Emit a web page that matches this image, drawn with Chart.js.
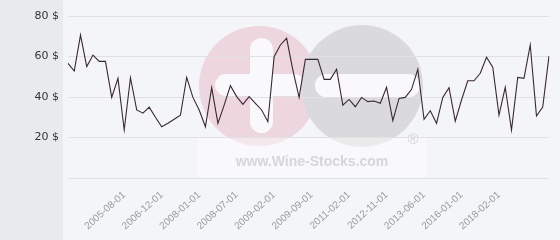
<!DOCTYPE html>
<html>
<head>
<meta charset="utf-8">
<script src="https://cdn.jsdelivr.net/npm/chart.js@4.4.0/dist/chart.umd.min.js"></script>
<style>
  html, body { margin: 0; padding: 0; background: #f4f5f9; }
  #wrap { width: 560px; height: 240px; }
</style>
</head>
<body>
<div id="wrap"><canvas id="priceChart" width="560" height="240"></canvas></div>
<script>
// price per bottle, one value per sale date
const prices = [
  56.6, 52.8, 70.6, 55, 60.7, 57.6, 57.6, 39.8, 49.2, 23.7,
  49.5, 33.6, 32, 35, 30, 25.3, 27, 29, 31, 49.7,
  39.8, 33.6, 25.3, 44.6, 27, 36, 45.6, 40.2, 36.4, 40.2,
  36.9, 33.6, 27.8, 59.9, 65.7, 69, 53.3, 39.8, 58.6, 58.6,
  58.6, 48.7, 48.7, 53.7, 36, 38.8, 35.2, 39.8, 37.7, 38,
  36.9, 44.8, 28.3, 39.3, 39.8, 43.8, 53.7, 29, 33.2, 27,
  39.8, 44.6, 28.1, 38.5, 48, 48, 51.7, 59.6, 54.7, 31.1,
  44.8, 23.7, 49.7, 49.2, 65.7, 30.6, 35, 60.2
];

// dates that are printed on the x axis (every 6th sale, starting at the 10th)
const tickLabels = [
  '2005-08-01', '2006-12-01', '2008-01-01', '2008-07-01', '2009-02-01', '2009-09-01',
  '2011-02-01', '2012-11-01', '2013-06-01', '2016-01-01', '2018-02-01'
];
const firstTick = 9;
const tickEvery = 6;

const yTicks = [0, 20, 40, 60, 80];

const categories = prices.map((_, i) => {
  const k = (i - firstTick) / tickEvery;
  return (i >= firstTick && Number.isInteger(k) && tickLabels[k]) ? tickLabels[k] : '';
});

const backdrop = {
  id: 'backdrop',
  beforeDraw(chart) {
    const ctx = chart.ctx;
    ctx.save();
    ctx.fillStyle = '#f4f5f9';
    ctx.fillRect(0, 0, chart.width, chart.height);
    ctx.fillStyle = '#e8ebee';
    ctx.fillRect(0, 0, 63, chart.height);

    // watermark logo
    const roundBar = (x, y, w, h, color) => {
      const r = Math.min(w, h) / 2;
      ctx.fillStyle = color;
      ctx.beginPath();
      ctx.roundRect(x, y, w, h, r);
      ctx.fill();
    };
    ctx.fillStyle = '#edd6dd';
    ctx.beginPath();
    ctx.arc(259, 86, 60, 0, Math.PI * 2);
    ctx.fill();
    roundBar(215, 74, 90, 22, '#f9f9fb');
    roundBar(250, 38, 23, 95, '#f9f9fb');

    ctx.fillStyle = '#dadadd';
    ctx.beginPath();
    ctx.arc(362, 86, 61, 0, Math.PI * 2);
    ctx.fill();
    roundBar(315, 74, 105, 23, '#f9f9fb');

    ctx.fillStyle = 'rgba(255,255,255,0.45)';
    ctx.fillRect(197, 138, 230, 39);
    ctx.fillStyle = '#d6d6d9';
    ctx.font = 'bold 14px "Liberation Sans", Arial, sans-serif';
    ctx.textAlign = 'center';
    ctx.textBaseline = 'alphabetic';
    ctx.fillText('www.Wine-Stocks.com', 312, 166);
    ctx.font = '15px "Liberation Sans", Arial, sans-serif';
    ctx.fillStyle = '#d2d2d5';
    ctx.fillText('®', 413, 144);
    ctx.restore();
  }
};

new Chart(document.getElementById('priceChart').getContext('2d'), {
  type: 'line',
  data: {
    labels: categories,
    datasets: [{
      data: prices,
      borderColor: '#3b2733',
      borderWidth: 1.1,
      pointRadius: 0,
      tension: 0,
      fill: false
    }]
  },
  options: {
    responsive: false,
    animation: false,
    layout: { padding: { left: 0, right: 5, top: 16, bottom: 0 } },
    plugins: {
      legend: { display: false },
      tooltip: { enabled: false }
    },
    scales: {
      x: {
        type: 'category',
        offset: false,
        grid: { display: false },
        border: { display: false },
        ticks: {
          autoSkip: false,
          minRotation: 42,
          maxRotation: 42,
          padding: 3,
          color: '#999999',
          font: { family: '"Liberation Sans", Arial, sans-serif', size: 10 }
        },
        afterFit: (scale) => { scale.height = 62; }
      },
      y: {
        min: 0,
        max: 80,
        afterBuildTicks: (scale) => { scale.ticks = yTicks.map(v => ({ value: v })); },
        grid: { color: '#e0e1e6', drawTicks: false },
        border: { display: false },
        ticks: {
          padding: 9,
          color: '#333333',
          font: { family: '"DejaVu Sans", sans-serif', size: 11 },
          callback: (v) => v === 0 ? '' : v + ' $'
        },
        afterFit: (scale) => { scale.width = 68; }
      }
    }
  },
  plugins: [backdrop]
});
</script>
</body>
</html>
